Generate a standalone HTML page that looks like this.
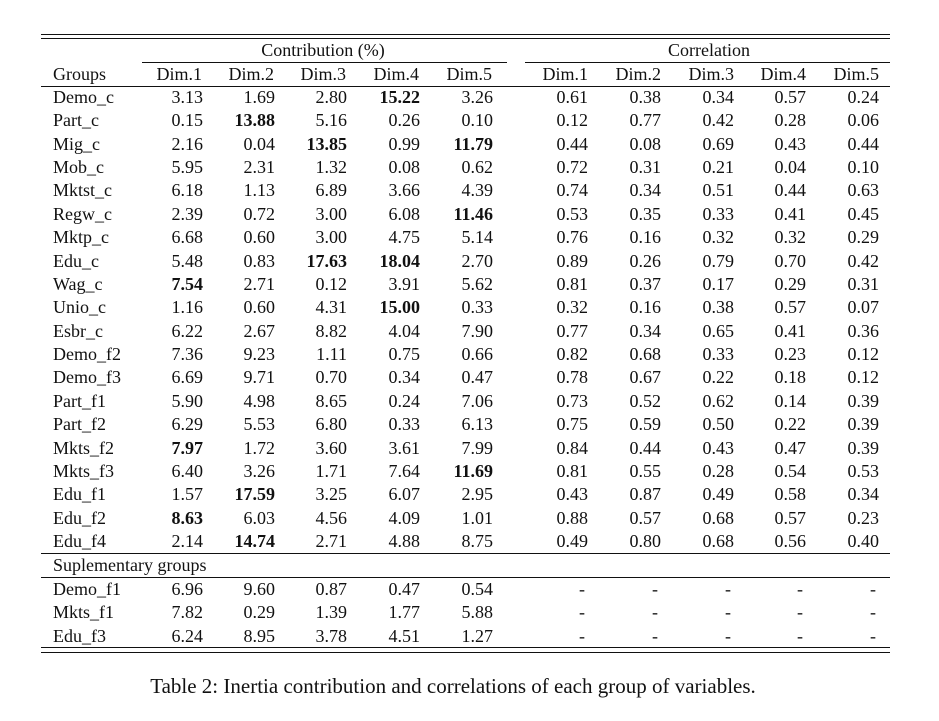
<!DOCTYPE html>
<html><head><meta charset="utf-8"><style>
body{margin:0;background:#fff;}
#wrap{position:relative;width:939px;height:721px;overflow:hidden;background:#fff;font-family:"Liberation Serif",serif;font-size:18px;color:#111;}
.t{position:absolute;height:22px;line-height:22px;white-space:nowrap;}
.r{position:absolute;background:#111;}
</style></head><body>
<div id="wrap"></div>
<script>
const groups=["Demo_c","Part_c","Mig_c","Mob_c","Mktst_c","Regw_c","Mktp_c","Edu_c","Wag_c","Unio_c","Esbr_c","Demo_f2","Demo_f3","Part_f1","Part_f2","Mkts_f2","Mkts_f3","Edu_f1","Edu_f2","Edu_f4"];
const contrib=[
["3.13","1.69","2.80","*15.22","3.26"],["0.15","*13.88","5.16","0.26","0.10"],["2.16","0.04","*13.85","0.99","*11.79"],["5.95","2.31","1.32","0.08","0.62"],["6.18","1.13","6.89","3.66","4.39"],["2.39","0.72","3.00","6.08","*11.46"],["6.68","0.60","3.00","4.75","5.14"],["5.48","0.83","*17.63","*18.04","2.70"],["*7.54","2.71","0.12","3.91","5.62"],["1.16","0.60","4.31","*15.00","0.33"],["6.22","2.67","8.82","4.04","7.90"],["7.36","9.23","1.11","0.75","0.66"],["6.69","9.71","0.70","0.34","0.47"],["5.90","4.98","8.65","0.24","7.06"],["6.29","5.53","6.80","0.33","6.13"],["*7.97","1.72","3.60","3.61","7.99"],["6.40","3.26","1.71","7.64","*11.69"],["1.57","*17.59","3.25","6.07","2.95"],["*8.63","6.03","4.56","4.09","1.01"],["2.14","*14.74","2.71","4.88","8.75"]];
const corr=[
["0.61","0.38","0.34","0.57","0.24"],["0.12","0.77","0.42","0.28","0.06"],["0.44","0.08","0.69","0.43","0.44"],["0.72","0.31","0.21","0.04","0.10"],["0.74","0.34","0.51","0.44","0.63"],["0.53","0.35","0.33","0.41","0.45"],["0.76","0.16","0.32","0.32","0.29"],["0.89","0.26","0.79","0.70","0.42"],["0.81","0.37","0.17","0.29","0.31"],["0.32","0.16","0.38","0.57","0.07"],["0.77","0.34","0.65","0.41","0.36"],["0.82","0.68","0.33","0.23","0.12"],["0.78","0.67","0.22","0.18","0.12"],["0.73","0.52","0.62","0.14","0.39"],["0.75","0.59","0.50","0.22","0.39"],["0.84","0.44","0.43","0.47","0.39"],["0.81","0.55","0.28","0.54","0.53"],["0.43","0.87","0.49","0.58","0.34"],["0.88","0.57","0.68","0.57","0.23"],["0.49","0.80","0.68","0.56","0.40"]];
const supGroups=["Demo_f1","Mkts_f1","Edu_f3"];
const supContrib=[["6.96","9.60","0.87","0.47","0.54"],["7.82","0.29","1.39","1.77","5.88"],["6.24","8.95","3.78","4.51","1.27"]];
const dims=["Dim.1","Dim.2","Dim.3","Dim.4","Dim.5"];

const W=document.getElementById('wrap');
const cR=[203,275,347,420,493], rR=[588,661,734,806,879];
function txt(s,x,y,align,name){
  const d=document.createElement('div');d.className='t';
  let bold=false; if(s[0]==='*'){bold=true;s=s.slice(1);}
  if(bold)d.style.fontWeight='bold';
  d.textContent=s;d.style.top=(y-11)+'px';
  if(align==='r'){d.style.right=(939-x)+'px';}
  else if(align==='c'){d.style.left=(x-200)+'px';d.style.width='400px';d.style.textAlign='center';}
  else d.style.left=x+'px';
  
  
  W.appendChild(d);
  return d;
}
function rule(x1,x2,y,h,name){
  const d=document.createElement('div');d.className='r';
  d.style.left=x1+'px';d.style.width=(x2-x1)+'px';d.style.top=y+'px';d.style.height=h+'px';
  
  
  W.appendChild(d);
}
rule(41,890,34,1.3,'top-rule');rule(41,890,38,1.3,'top-rule-2');
txt('Contribution (%)',323,50,'c','contribution-header');
txt('Correlation',709,50,'c','correlation-header');
rule(142,507,62,1,'contribution-rule');rule(525,890,62,1,'correlation-rule');
txt('Groups',53,74,'l','groups-header');
dims.forEach((d,i)=>{txt(d,cR[i]-1,74,'r','contrib-dim-header');txt(d,rR[i],74,'r','corr-dim-header');});
rule(41,890,86,1,'header-rule');
const y0=97,dy=23.37;
groups.forEach((g,i)=>{
  const y=y0+i*dy;
  txt(g,53,y,'l','group-label');
  contrib[i].forEach((v,j)=>txt(v,cR[j],y,'r','contrib-cell'));
  corr[i].forEach((v,j)=>txt(v,rR[j],y,'r','corr-cell'));
});
rule(41,890,553,1,'body-rule');
txt('Suplementary groups',53,565,'l','supplementary-header');
rule(41,890,577,1,'supplementary-rule');
supGroups.forEach((g,i)=>{
  const y=589+i*23.3;
  txt(g,53,y,'l','sup-group-label');
  supContrib[i].forEach((v,j)=>txt(v,cR[j],y,'r','sup-contrib-cell'));
  rR.forEach((x,j)=>txt('-',x-3,y,'r','sup-corr-dash'));
});
rule(41,890,647,1.3,'bottom-rule');rule(41,890,652,1.3,'bottom-rule-2');
const cap=txt('Table 2: Inertia contribution and correlations of each group of variables.',453,686,'c','caption');
cap.style.width='800px';cap.style.left='53px';cap.style.fontSize='21px';
</script>
</body></html>
